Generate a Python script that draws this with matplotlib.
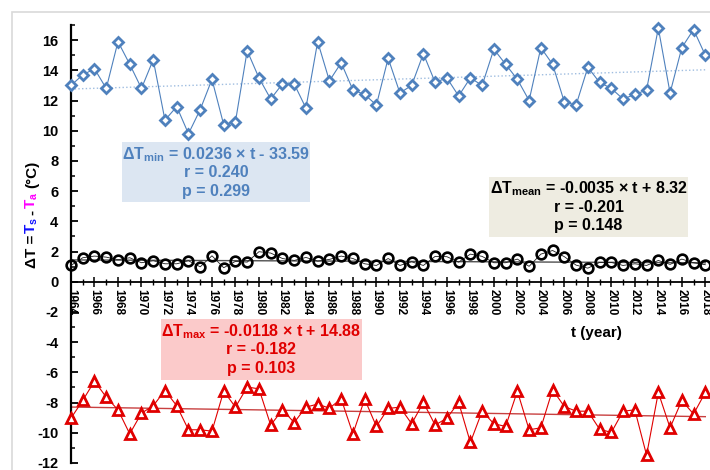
import matplotlib
matplotlib.use("Agg")
import matplotlib.pyplot as plt
from matplotlib.patches import Rectangle
from matplotlib.ticker import MultipleLocator
import numpy

plt.rcParams['font.family'] = ['Liberation Sans', 'DejaVu Sans']
plt.rcParams['font.weight'] = 'bold'
plt.rcParams['axes.unicode_minus'] = False
plt.rcParams['mathtext.fontset'] = 'custom'
plt.rcParams['mathtext.rm'] = 'Liberation Sans:bold'
plt.rcParams['mathtext.it'] = 'Liberation Sans:bold'
plt.rcParams['mathtext.bf'] = 'Liberation Sans:bold'
plt.rcParams['mathtext.sf'] = 'Liberation Sans:bold'

years = list(range(1964, 2019))

delta_t_min = [
    13.0, 13.7, 14.1, 12.8, 15.9, 14.4, 12.8, 14.7, 10.7, 11.6,
    9.8, 11.4, 13.4, 10.4, 10.6, 15.3, 13.5, 12.1, 13.1, 13.1,
    11.5, 15.9, 13.3, 14.5, 12.7, 12.4, 11.7, 14.8, 12.5, 13.0,
    15.1, 13.2, 13.5, 12.3, 13.5, 13.0, 15.4, 14.4, 13.4, 12.0,
    15.5, 14.4, 11.9, 11.7, 14.2, 13.2, 12.8, 12.1, 12.4, 12.7,
    16.8, 12.5, 15.5, 16.7, 15.0,
]

delta_t_mean = [
    1.08, 1.59, 1.70, 1.63, 1.46, 1.59, 1.26, 1.39, 1.19, 1.19,
    1.39, 0.99, 1.72, 0.93, 1.35, 1.30, 1.99, 1.90, 1.54, 1.41,
    1.61, 1.37, 1.48, 1.70, 1.54, 1.19, 1.08, 1.54, 1.08, 1.32,
    1.08, 1.68, 1.66, 1.30, 1.83, 1.68, 1.26, 1.26, 1.50, 1.02,
    1.83, 2.07, 1.66, 1.10, 0.90, 1.28, 1.28, 1.08, 1.19, 1.08,
    1.41, 1.15, 1.50, 1.26, 1.13,
]

delta_t_max = [
    -9.03, -7.86, -6.58, -7.64, -8.48, -10.07, -8.70, -8.21, -7.20, -8.21,
    -9.80, -9.80, -9.89, -7.24, -8.30, -6.97, -7.09, -9.49, -8.48, -9.32,
    -8.30, -8.10, -8.37, -7.75, -10.07, -7.77, -9.58, -8.39, -8.30, -9.40,
    -7.99, -9.49, -9.03, -7.99, -10.64, -8.57, -9.40, -9.58, -7.24, -9.80,
    -9.67, -7.15, -8.26, -8.57, -8.57, -9.76, -9.98, -8.57, -8.48, -11.48,
    -7.33, -9.67, -7.86, -8.76, -7.33,
]

# regression coefficients as written in the boxes
trend_min = (0.0236, -33.59)
trend_mean = (-0.0035, 8.32)
trend_max = (-0.0118, 14.88)

box_min_lines = ["ΔT$_{min}$ = 0.0236 × t - 33.59", "r = 0.240", "p = 0.299"]
box_mean_lines = ["ΔT$_{mean}$ = -0.0035 × t + 8.32", "r = -0.201", "p = 0.148"]
box_max_lines = ["ΔT$_{max}$ = -0.0118 × t + 14.88", "r = -0.182", "p = 0.103"]

blue = "#4f81bd"
red = "#e00000"

W, H = 710, 470


def fx(px):
    return px / W


def fy(py):
    return 1 - py / H


def trend_values(coeffs):
    slope, intercept = coeffs
    xs = numpy.array(years, dtype=float)
    return xs, slope * xs + intercept


def text_box(fig, left, top, right, bottom, lines, line_ys, face, color):
    fig.patches.append(Rectangle((fx(left), fy(bottom)), fx(right) - fx(left), fy(top) - fy(bottom),
                                 transform=fig.transFigure, facecolor=face, edgecolor='none', zorder=3))
    center = (left + right) / 2
    for line, line_y in zip(lines, line_ys):
        fig.text(fx(center), fy(line_y), line, color=color, fontsize=11.5, fontweight='bold',
                 ha='center', va='center', zorder=4)


def colored_ylabel(fig, pieces, x_px, y_px):
    renderer = fig.canvas.get_renderer()
    y = fy(y_px)
    for text, color, gap in pieces:
        t = fig.text(fx(x_px), y, text, color=color, fontsize=11, fontweight='bold',
                     rotation=90, rotation_mode='anchor', ha='left', va='baseline')
        bb = t.get_window_extent(renderer)
        y += (bb.height + gap) / H


fig = plt.figure(figsize=(7.1, 4.7), dpi=100)
fig.patches.append(Rectangle((fx(12), -0.1), 1.2, fy(12) + 0.1, transform=fig.transFigure,
                             facecolor='none', edgecolor='#d9d9d9', linewidth=1.2))

ax = fig.add_axes([fx(71), fy(463), 1 - fx(71), fy(25) - fy(463)])
ax.set_facecolor('none')
ax.set_xlim(1964, 2018.4)
ax.set_ylim(-12, 17)

ax.spines['top'].set_visible(False)
ax.spines['right'].set_visible(False)
ax.spines['left'].set_linewidth(1.6)
ax.spines['bottom'].set_position(('data', 0))
ax.spines['bottom'].set_linewidth(1.3)
ax.spines['left'].set_bounds(-12, 17)

ax.yaxis.set_major_locator(MultipleLocator(2))
ax.yaxis.set_minor_locator(MultipleLocator(1))
ax.xaxis.set_major_locator(MultipleLocator(2))
ax.xaxis.set_minor_locator(MultipleLocator(1))
ax.set_yticks(range(-12, 17, 2))
ax.tick_params(axis='y', which='major', direction='in', length=5, width=1.3, pad=9, labelsize=10.5)
ax.tick_params(axis='y', which='minor', direction='in', length=3, width=1.1)
ax.tick_params(axis='x', which='major', direction='inout', length=7, width=1.1, pad=2, labelsize=8.5)
ax.tick_params(axis='x', which='minor', direction='inout', length=5, width=1.0)
ax.set_xticks(range(1964, 2019, 2))
for label in ax.get_xticklabels():
    label.set_rotation(270)
    label.set_fontweight('bold')
for label in ax.get_yticklabels():
    label.set_fontweight('bold')

xs, ys = trend_values(trend_min)
ax.plot(xs, ys, color='#9fbde0', linestyle=':', linewidth=1.0, zorder=2)
xs, ys = trend_values(trend_mean)
ax.plot(xs, ys, color='#505050', linewidth=1.0, zorder=2)
xs, ys = trend_values(trend_max)
ax.plot(xs, ys, color='#c84040', linewidth=1.0, zorder=2)

ax.plot(years, delta_t_min, color=blue, linewidth=0.8, marker='D', markersize=5.5,
        markerfacecolor='white', markeredgecolor=blue, markeredgewidth=2, clip_on=False, zorder=5)
ax.plot(years, delta_t_mean, color='#202020', linewidth=0.6, marker='o', markersize=7,
        markerfacecolor='none', markeredgecolor='black', markeredgewidth=1.9, clip_on=False, zorder=5)
ax.plot(years, delta_t_max, color=red, linewidth=0.8, marker='^', markersize=7.5,
        markerfacecolor='white', markeredgecolor=red, markeredgewidth=2, clip_on=False, zorder=5)

text_box(fig, 122, 142, 310, 202, box_min_lines, [155, 173, 192], '#dce6f2', '#4f81bd')
text_box(fig, 489, 177, 688, 237, box_mean_lines, [189, 208, 226], '#eeece1', 'black')
text_box(fig, 161, 319, 362, 380, box_max_lines, [332, 350, 369], '#fbcaca', '#e00000')

fig.text(fx(596), fy(333), "t (year)", fontsize=11, fontweight='bold', ha='center', va='center')

colored_ylabel(fig, [
    ("ΔT =", 'black', 1),
    ("T$_s$", '#1010ff', 2),
    ("-", 'black', 1),
    ("T$_a$", '#ff00ff', 3),
    ("(°C)", 'black', 0),
], 36, 268)

fig.savefig("out.png", dpi=100)
